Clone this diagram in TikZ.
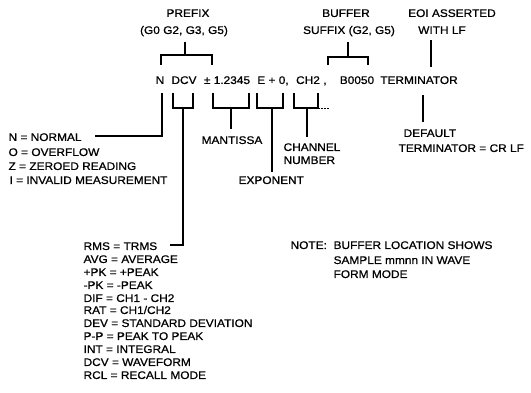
\documentclass[tikz,border=0pt]{standalone}
\usepackage{fontspec}
\setmainfont{Liberation Sans}[FakeStretch=1.08,FakeBold=0.8]
\begin{document}
\begin{tikzpicture}[x=1pt,y=-1pt,line width=1.2pt,
  txt/.style={inner sep=0pt,text height=7.9pt,text depth=0pt,font=\fontsize{11}{13}\selectfont},
  lft/.style={txt,anchor=west},
  tail/.style={line width=0.8pt,dash pattern=on 1.5pt off 1.5pt}]
\useasboundingbox (0,0) rectangle (531,392);

% headers
\node[txt] (prefix) at (188,13) {PREFIX};
\node[txt] (prefixg) at (184,30) {(G0 G2, G3, G5)};
\node[txt] (buffer) at (346,13) {BUFFER};
\node[txt] (suffix) at (349,30) {SUFFIX (G2, G5)};
\node[txt] (eoi) at (452,13) {EOI ASSERTED};
\node[txt] (withlf) at (442,30) {WITH LF};

% main line
\node[txt] (n) at (160,80) {N};
\node[txt] (dcv) at (184,80) {DCV};
\node[txt] (mant) at (227,80) {± 1.2345};
\node[txt] (expo) at (273,80) {E + 0,};
\node[txt] (ch) at (308,80) {CH2};
\node[txt] (comma) at (325,80) {,};
\node[txt] (buf) at (357,80) {B0050};
\node[txt] (term) at (419,80) {TERMINATOR};

% labels
\node[txt] (mantissa) at (232,140) {MANTISSA};
\node[lft] (exponent) at (238,180) {EXPONENT};
\node[lft] (channel) at (283,147) {CHANNEL};
\node[lft] (number) at (283,160) {NUMBER};
\node[lft] (default) at (403,133) {DEFAULT};
\node[lft] (defterm) at (398,148) {TERMINATOR = CR LF};

% prefix list
\node[lft] (l1) at (8,137) {N = NORMAL};
\node[lft] (l2) at (8,152) {O = OVERFLOW};
\node[lft] (l3) at (8,166) {Z = ZEROED READING};
\node[lft] (l4) at (9,180) {I = INVALID MEASUREMENT};

% mode list
\node[lft] (m1) at (83,246) {RMS = TRMS};
\node[lft] (m2) at (83,259) {AVG = AVERAGE};
\node[lft] (m3) at (83,272) {+PK = +PEAK};
\node[lft] (m4) at (83,285) {-PK = -PEAK};
\node[lft] (m5) at (83,298) {DIF = CH1 - CH2};
\node[lft] (m6) at (83,310) {RAT = CH1/CH2};
\node[lft] (m7) at (83,323) {DEV = STANDARD DEVIATION};
\node[lft] (m8) at (83,336) {P-P = PEAK TO PEAK};
\node[lft] (m9) at (83,349) {INT = INTEGRAL};
\node[lft] (m10) at (83,362) {DCV = WAVEFORM};
\node[lft] (m11) at (83,375) {RCL = RECALL MODE};

% note
\node[lft] (note) at (290,245) {NOTE:};
\node[lft] (note1) at (333,245) {BUFFER LOCATION SHOWS};
\node[lft] (note2) at (333,260) {SAMPLE mmnn IN WAVE};
\node[lft] (note3) at (333,274) {FORM MODE};

% ---- connector points ----
% prefix
\coordinate (pS) at (185,42); \coordinate (pB) at (185,55);
\coordinate (pL) at (161,55); \coordinate (pLd) at (161,65);
\coordinate (pR) at (212,55); \coordinate (pRd) at (212,65);
\draw (pS) -- (pB);
\draw (pLd) -- (pL) -- (pR) -- (pRd);
% buffer suffix
\coordinate (bS) at (348,42); \coordinate (bB) at (348,57);
\coordinate (bL) at (328,57); \coordinate (bLd) at (328,65);
\coordinate (bR) at (368,57); \coordinate (bRd) at (368,65);
\draw (bS) -- (bB);
\draw (bLd) -- (bL) -- (bR) -- (bRd);
% EOI
\coordinate (eT) at (431,40); \coordinate (eB) at (431,67);
\draw (eT) -- (eB);
% N
\coordinate (nT) at (162,93); \coordinate (nC) at (162,136); \coordinate (nE) at (95,136);
\draw (nT) -- (nC) -- (nE);
% DCV
\coordinate (dL) at (173,93); \coordinate (dLb) at (173,108);
\coordinate (dR) at (193,93); \coordinate (dRb) at (193,108);
\coordinate (dS) at (183,108); \coordinate (dC) at (183,245); \coordinate (dE) at (170,245);
\draw (dL) -- (dLb) -- (dRb) -- (dR);
\draw (dS) -- (dC) -- (dE);
% mantissa
\coordinate (mL) at (213,93); \coordinate (mLb) at (213,108);
\coordinate (mR) at (249,93); \coordinate (mRb) at (249,108);
\coordinate (mS) at (231,108); \coordinate (mE) at (231,129);
\draw (mL) -- (mLb) -- (mRb) -- (mR);
\draw (mS) -- (mE);
% exponent
\coordinate (xL) at (257,93); \coordinate (xLb) at (257,108);
\coordinate (xR) at (283,93); \coordinate (xRb) at (283,108);
\coordinate (xS) at (272,108); \coordinate (xE) at (272,172);
\draw (xL) -- (xLb) -- (xRb) -- (xR);
\draw (xS) -- (xE);
% channel
\coordinate (cL) at (294,93); \coordinate (cLb) at (294,108);
\coordinate (cR) at (318,93); \coordinate (cRb) at (318,108);
\coordinate (cT) at (330,108);
\coordinate (cS) at (307,108); \coordinate (cE) at (307,137);
\draw (cL) -- (cLb) -- (cRb) -- (cR);
\draw[tail] (cRb) -- (cT);
\draw (cS) -- (cE);
% terminator
\coordinate (tT) at (423,95); \coordinate (tB) at (423,122);
\draw (tT) -- (tB);
\end{tikzpicture}
\end{document}
